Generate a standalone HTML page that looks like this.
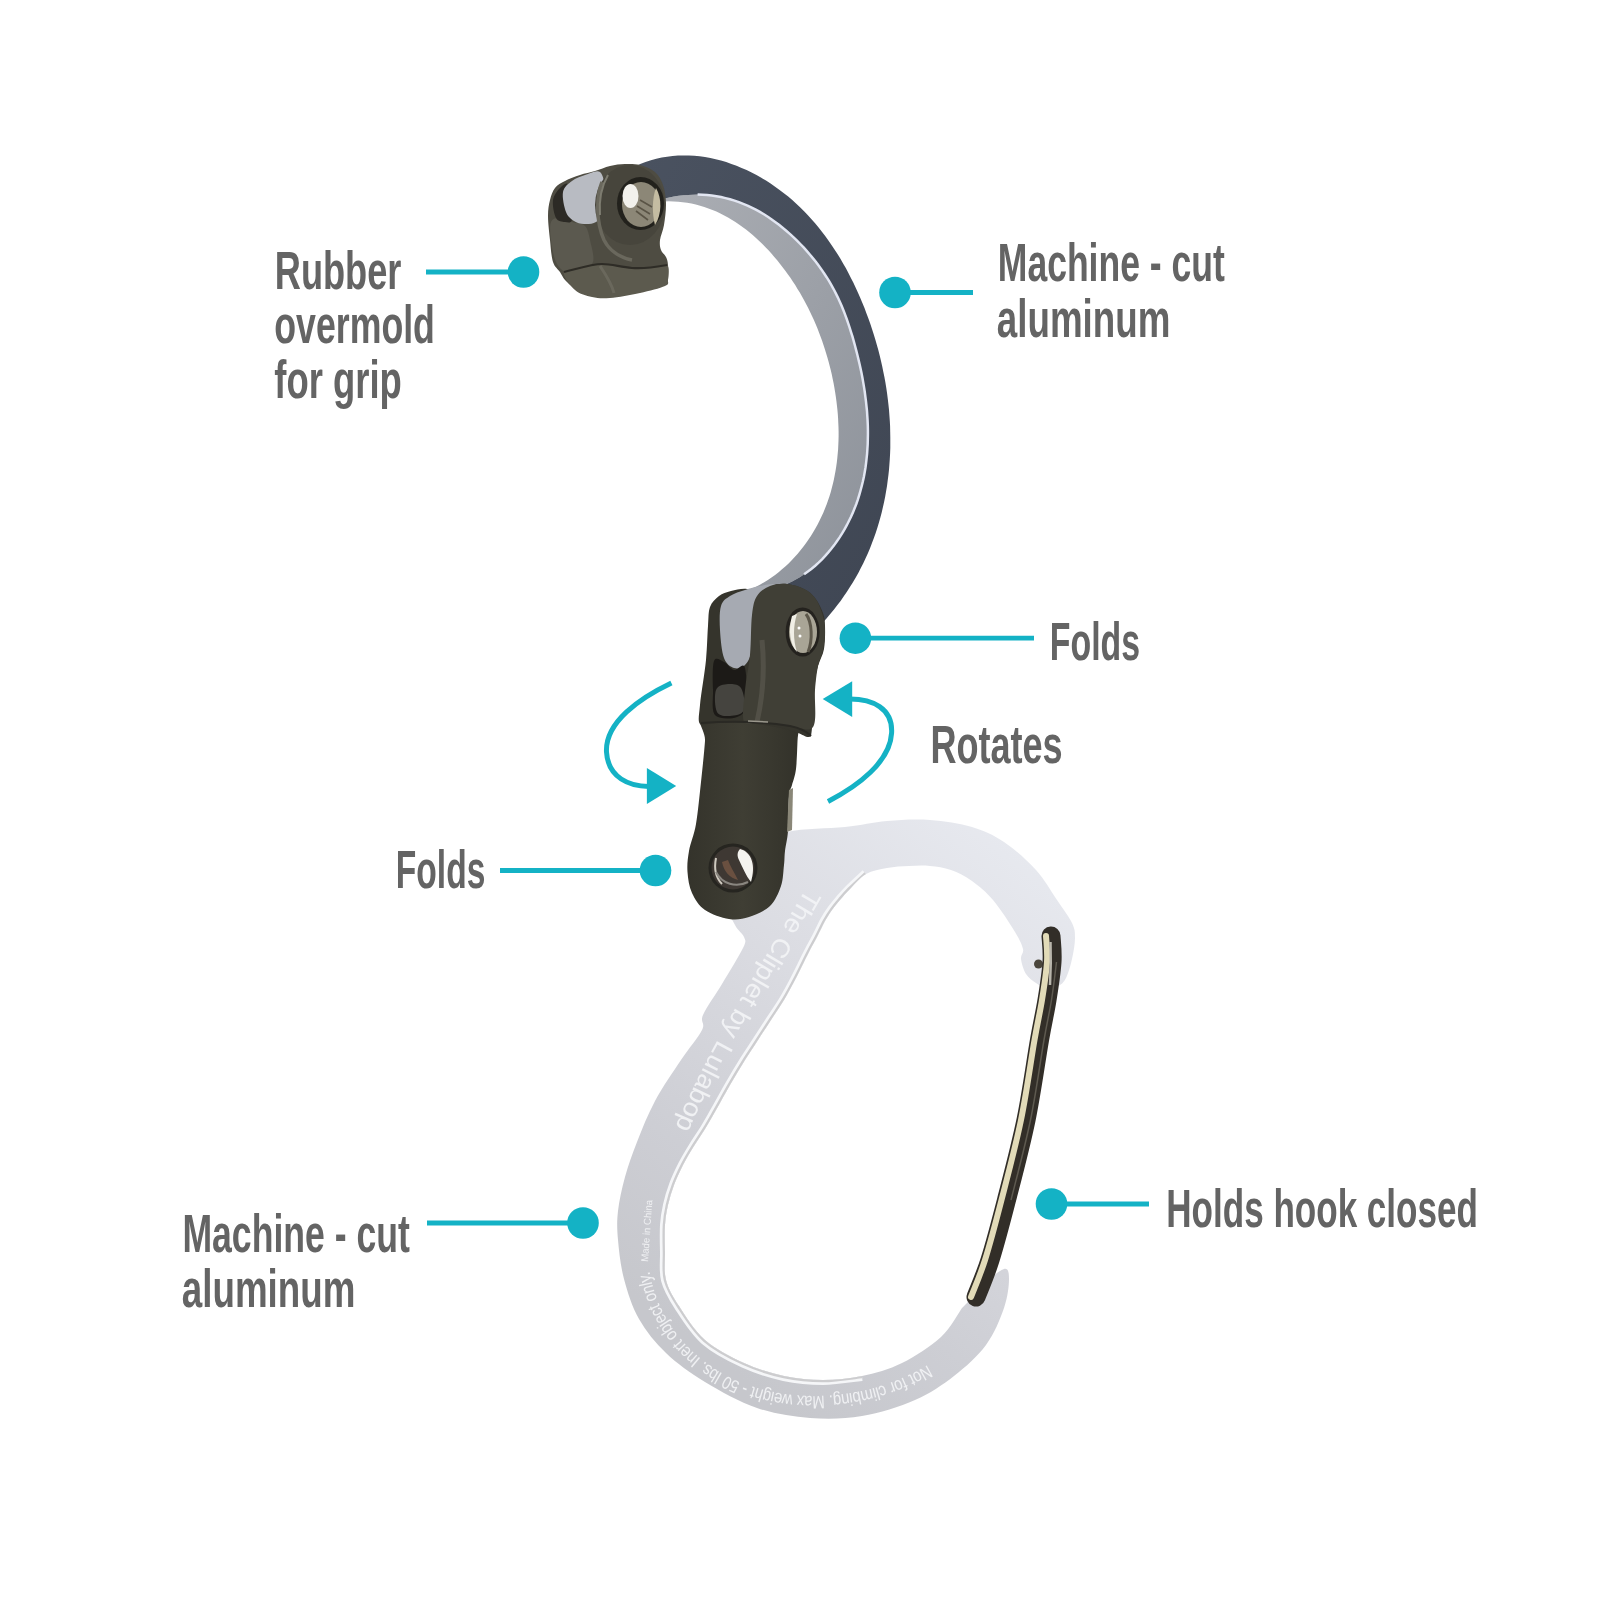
<!DOCTYPE html>
<html><head><meta charset="utf-8"><title>Hook</title>
<style>
html,body{margin:0;padding:0;background:#fff;}
body{width:1600px;height:1600px;overflow:hidden;}
svg{display:block;}
.eng{font-family:"Liberation Sans",sans-serif;font-weight:normal;fill:#f4f5f7;opacity:0.9;}
text.lbl{font-family:"Liberation Sans",sans-serif;font-weight:bold;font-size:54px;fill:#646464;}
svg{will-change:transform;}
</style></head><body>
<svg width="1600" height="1600" viewBox="0 0 1600 1600">
<defs>
<linearGradient id="gDark" x1="0" y1="0" x2="1" y2="1"><stop offset="0" stop-color="#4a5260"/><stop offset="1" stop-color="#3f4653"/></linearGradient>
<linearGradient id="gLight" x1="0" y1="0" x2="1" y2="1"><stop offset="0" stop-color="#abaeb4"/><stop offset="1" stop-color="#8d929a"/></linearGradient>
<linearGradient id="gRub2" x1="0" y1="0" x2="1" y2="0"><stop offset="0" stop-color="#34332b"/><stop offset="0.5" stop-color="#3f3e34"/><stop offset="1" stop-color="#33322a"/></linearGradient>
<linearGradient id="gSilver" gradientUnits="userSpaceOnUse" x1="1000" y1="830" x2="640" y2="1300"><stop offset="0" stop-color="#e7e9ef"/><stop offset="0.35" stop-color="#dcdde3"/><stop offset="0.75" stop-color="#cdced4"/><stop offset="1" stop-color="#c6c7cc"/></linearGradient>
</defs>
<rect width="1600" height="1600" fill="#fff"/>
<path d="M659.8 199.8 L664.5 198.5 L669.2 197.4 L673.9 196.5 L678.6 195.8 L683.4 195.2 L688.1 194.9 L692.9 194.7 L697.6 194.6 L702.3 194.8 L707.0 195.1 L711.7 195.6 L716.4 196.3 L721.0 197.1 L725.5 198.1 L730.0 199.3 L734.5 200.6 L738.9 202.1 L743.2 203.8 L747.5 205.6 L751.7 207.6 L755.8 209.7 L759.9 211.9 L763.9 214.3 L767.8 216.8 L771.7 219.4 L775.5 222.2 L779.3 225.0 L782.9 228.0 L786.5 231.0 L790.1 234.1 L793.6 237.3 L797.0 240.6 L800.3 244.0 L803.6 247.4 L806.7 250.9 L809.8 254.5 L812.8 258.1 L815.8 261.8 L818.6 265.6 L821.4 269.4 L824.0 273.3 L826.6 277.2 L829.1 281.2 L831.4 285.2 L833.7 289.3 L835.8 293.4 L837.9 297.6 L839.8 301.8 L841.7 306.0 L843.4 310.3 L845.1 314.6 L846.7 319.0 L848.2 323.4 L849.7 327.8 L851.1 332.3 L852.5 336.7 L853.8 341.3 L855.0 345.8 L856.2 350.4 L857.4 355.0 L858.5 359.6 L859.6 364.2 L860.6 368.8 L861.6 373.5 L862.5 378.2 L863.3 382.9 L864.1 387.6 L864.8 392.3 L865.4 397.0 L866.0 401.7 L866.5 406.5 L867.0 411.2 L867.3 415.9 L867.6 420.7 L867.8 425.4 L867.9 430.1 L867.9 434.8 L867.8 439.6 L867.7 444.3 L867.4 448.9 L867.1 453.6 L866.6 458.3 L866.1 462.9 L865.5 467.5 L864.7 472.2 L863.9 476.7 L862.9 481.3 L861.8 485.8 L860.6 490.3 L859.3 494.8 L857.9 499.3 L856.4 503.7 L854.7 508.1 L852.9 512.4 L851.0 516.7 L848.9 521.0 L846.8 525.2 L844.5 529.3 L842.1 533.4 L839.6 537.4 L836.9 541.3 L834.2 545.1 L831.3 548.8 L828.3 552.4 L825.2 555.9 L822.0 559.3 L818.6 562.6 L815.2 565.7 L811.6 568.8 L807.9 571.6 L804.1 574.3 L800.2 576.9 L796.2 579.3 L792.1 581.5 L787.8 583.6 L783.5 585.5 L779.0 587.1 L774.5 588.6 L769.8 589.9 L740.2 593.0 L744.4 591.6 L748.5 590.1 L752.5 588.3 L756.5 586.4 L760.3 584.4 L764.2 582.2 L767.9 579.9 L771.5 577.5 L775.1 574.9 L778.6 572.2 L782.0 569.3 L785.3 566.4 L788.6 563.4 L791.7 560.2 L794.7 557.0 L797.7 553.7 L800.5 550.3 L803.3 546.8 L805.9 543.2 L808.5 539.6 L810.9 535.9 L813.3 532.1 L815.5 528.3 L817.6 524.5 L819.6 520.6 L821.5 516.6 L823.3 512.7 L825.0 508.6 L826.6 504.6 L828.0 500.5 L829.4 496.4 L830.7 492.2 L831.8 488.1 L832.9 483.8 L833.9 479.6 L834.7 475.3 L835.5 471.1 L836.2 466.8 L836.8 462.4 L837.3 458.1 L837.7 453.7 L838.1 449.4 L838.3 445.0 L838.5 440.6 L838.6 436.2 L838.6 431.8 L838.5 427.4 L838.3 423.0 L838.1 418.5 L837.8 414.1 L837.4 409.7 L836.9 405.3 L836.4 400.9 L835.8 396.5 L835.1 392.1 L834.4 387.7 L833.6 383.3 L832.7 379.0 L831.8 374.6 L830.8 370.3 L829.7 366.0 L828.6 361.7 L827.4 357.4 L826.1 353.2 L824.8 348.9 L823.4 344.7 L822.0 340.5 L820.5 336.4 L818.9 332.2 L817.3 328.1 L815.6 324.1 L813.9 320.0 L812.0 316.0 L810.1 312.0 L808.2 308.1 L806.2 304.2 L804.1 300.3 L802.0 296.4 L799.8 292.6 L797.5 288.9 L795.2 285.1 L792.8 281.5 L790.4 277.8 L787.8 274.2 L785.3 270.7 L782.6 267.2 L779.9 263.7 L777.2 260.3 L774.3 256.9 L771.4 253.6 L768.5 250.3 L765.5 247.2 L762.4 244.0 L759.2 241.0 L756.0 238.0 L752.7 235.1 L749.4 232.3 L746.0 229.6 L742.5 226.9 L739.0 224.4 L735.4 222.0 L731.7 219.7 L728.0 217.5 L724.2 215.4 L720.4 213.5 L716.4 211.6 L712.5 209.9 L708.4 208.4 L704.3 207.0 L700.1 205.7 L695.8 204.6 L691.5 203.6 L687.1 202.8 L682.7 202.2 L678.2 201.7 L673.6 201.4 L668.9 201.3 L664.2 201.4 L659.4 201.6Z" fill="url(#gLight)"/>
<path d="M629.6 169.1 L634.9 166.4 L640.2 164.1 L645.5 162.1 L650.9 160.3 L656.3 158.8 L661.7 157.6 L667.1 156.7 L672.6 156.0 L678.0 155.6 L683.4 155.4 L688.9 155.5 L694.3 155.8 L699.7 156.3 L705.0 157.1 L710.4 158.0 L715.7 159.2 L721.0 160.6 L726.2 162.1 L731.4 163.9 L736.5 165.8 L741.6 167.9 L746.6 170.1 L751.6 172.5 L756.5 175.1 L761.3 177.8 L766.0 180.6 L770.6 183.6 L775.1 186.7 L779.6 189.9 L783.9 193.2 L788.2 196.6 L792.3 200.1 L796.3 203.8 L800.3 207.5 L804.1 211.3 L807.9 215.2 L811.5 219.2 L815.1 223.3 L818.6 227.4 L821.9 231.7 L825.2 236.0 L828.4 240.4 L831.5 244.9 L834.5 249.4 L837.5 254.0 L840.3 258.6 L843.1 263.4 L845.8 268.1 L848.4 273.0 L850.9 277.9 L853.4 282.8 L855.7 287.8 L858.0 292.8 L860.2 297.8 L862.4 302.9 L864.5 308.1 L866.4 313.2 L868.4 318.4 L870.2 323.6 L872.0 328.9 L873.7 334.2 L875.3 339.5 L876.8 344.8 L878.3 350.1 L879.7 355.5 L881.0 360.9 L882.2 366.2 L883.3 371.7 L884.4 377.1 L885.4 382.5 L886.3 388.0 L887.1 393.4 L887.8 398.9 L888.4 404.3 L889.0 409.8 L889.4 415.3 L889.8 420.8 L890.1 426.2 L890.2 431.7 L890.3 437.2 L890.3 442.6 L890.3 448.1 L890.1 453.5 L889.8 459.0 L889.4 464.4 L889.0 469.8 L888.4 475.2 L887.7 480.6 L887.0 485.9 L886.1 491.3 L885.2 496.6 L884.1 501.9 L882.9 507.2 L881.7 512.4 L880.3 517.7 L878.8 522.9 L877.3 528.0 L875.6 533.2 L873.8 538.3 L871.9 543.3 L869.9 548.4 L867.8 553.4 L865.6 558.3 L863.3 563.2 L860.8 568.1 L858.3 572.9 L855.6 577.7 L852.8 582.4 L849.9 587.1 L846.9 591.8 L843.8 596.3 L840.6 600.9 L837.2 605.3 L833.8 609.8 L830.2 614.1 L826.5 618.4 L822.6 622.7 L818.7 626.8 L814.6 631.0 L769.8 589.9 L774.5 588.6 L779.0 587.1 L783.5 585.5 L787.8 583.6 L792.1 581.5 L796.2 579.3 L800.2 576.9 L804.1 574.3 L807.9 571.6 L811.6 568.8 L815.2 565.7 L818.6 562.6 L822.0 559.3 L825.2 555.9 L828.3 552.4 L831.3 548.8 L834.2 545.1 L836.9 541.3 L839.6 537.4 L842.1 533.4 L844.5 529.3 L846.8 525.2 L848.9 521.0 L851.0 516.7 L852.9 512.4 L854.7 508.1 L856.4 503.7 L857.9 499.3 L859.3 494.8 L860.6 490.3 L861.8 485.8 L862.9 481.3 L863.9 476.7 L864.7 472.2 L865.5 467.5 L866.1 462.9 L866.6 458.3 L867.1 453.6 L867.4 448.9 L867.7 444.3 L867.8 439.6 L867.9 434.8 L867.9 430.1 L867.8 425.4 L867.6 420.7 L867.3 415.9 L867.0 411.2 L866.5 406.5 L866.0 401.7 L865.4 397.0 L864.8 392.3 L864.1 387.6 L863.3 382.9 L862.5 378.2 L861.6 373.5 L860.6 368.8 L859.6 364.2 L858.5 359.6 L857.4 355.0 L856.2 350.4 L855.0 345.8 L853.8 341.3 L852.5 336.7 L851.1 332.3 L849.7 327.8 L848.2 323.4 L846.7 319.0 L845.1 314.6 L843.4 310.3 L841.7 306.0 L839.8 301.8 L837.9 297.6 L835.8 293.4 L833.7 289.3 L831.4 285.2 L829.1 281.2 L826.6 277.2 L824.0 273.3 L821.4 269.4 L818.6 265.6 L815.8 261.8 L812.8 258.1 L809.8 254.5 L806.7 250.9 L803.6 247.4 L800.3 244.0 L797.0 240.6 L793.6 237.3 L790.1 234.1 L786.5 231.0 L782.9 228.0 L779.3 225.0 L775.5 222.2 L771.7 219.4 L767.8 216.8 L763.9 214.3 L759.9 211.9 L755.8 209.7 L751.7 207.6 L747.5 205.6 L743.2 203.8 L738.9 202.1 L734.5 200.6 L730.0 199.3 L725.5 198.1 L721.0 197.1 L716.4 196.3 L711.7 195.6 L707.0 195.1 L702.3 194.8 L697.6 194.6 L692.9 194.7 L688.1 194.9 L683.4 195.2 L678.6 195.8 L673.9 196.5 L669.2 197.4 L664.5 198.5 L659.8 199.8Z" fill="url(#gDark)"/>
<path d="M697.6 194.6 L702.3 194.8 L707.0 195.1 L711.7 195.6 L716.4 196.3 L721.0 197.1 L725.5 198.1 L730.0 199.3 L734.5 200.6 L738.9 202.1 L743.2 203.8 L747.5 205.6 L751.7 207.6 L755.8 209.7 L759.9 211.9 L763.9 214.3 L767.8 216.8 L771.7 219.4 L775.5 222.2 L779.3 225.0 L782.9 228.0 L786.5 231.0 L790.1 234.1 L793.6 237.3 L797.0 240.6 L800.3 244.0 L803.6 247.4 L806.7 250.9 L809.8 254.5 L812.8 258.1 L815.8 261.8 L818.6 265.6 L821.4 269.4 L824.0 273.3 L826.6 277.2 L829.1 281.2 L831.4 285.2 L833.7 289.3 L835.8 293.4 L837.9 297.6 L839.8 301.8 L841.7 306.0 L843.4 310.3 L845.1 314.6 L846.7 319.0 L848.2 323.4 L849.7 327.8 L851.1 332.3 L852.5 336.7 L853.8 341.3 L855.0 345.8 L856.2 350.4 L857.4 355.0 L858.5 359.6 L859.6 364.2 L860.6 368.8 L861.6 373.5 L862.5 378.2 L863.3 382.9 L864.1 387.6 L864.8 392.3 L865.4 397.0 L866.0 401.7 L866.5 406.5 L867.0 411.2 L867.3 415.9 L867.6 420.7 L867.8 425.4 L867.9 430.1 L867.9 434.8 L867.8 439.6 L867.7 444.3 L867.4 448.9 L867.1 453.6 L866.6 458.3 L866.1 462.9 L865.5 467.5 L864.7 472.2 L863.9 476.7 L862.9 481.3 L861.8 485.8 L860.6 490.3 L859.3 494.8 L857.9 499.3 L856.4 503.7 L854.7 508.1 L852.9 512.4 L851.0 516.7 L848.9 521.0 L846.8 525.2 L844.5 529.3 L842.1 533.4 L839.6 537.4 L836.9 541.3 L834.2 545.1 L831.3 548.8 L828.3 552.4 L825.2 555.9 L822.0 559.3 L818.6 562.6 L815.2 565.7 L811.6 568.8 L807.9 571.6 L804.1 574.3" fill="none" stroke="#e2e6f2" stroke-width="2.5"/>
<path d="M548.0 216.0 C548.0 209.3 548.8 204.7 550.0 200.0 C551.2 195.3 552.5 191.2 555.0 188.0 C557.5 184.8 560.8 183.2 565.0 181.0 C569.2 178.8 575.0 176.7 580.0 175.0 C585.0 173.3 590.0 172.5 595.0 171.0 C600.0 169.5 605.0 167.2 610.0 166.0 C615.0 164.8 620.0 164.2 625.0 164.0 C630.0 163.8 635.0 163.7 640.0 165.0 C645.0 166.3 651.2 168.7 655.0 172.0 C658.8 175.3 661.2 179.8 663.0 185.0 C664.8 190.2 665.8 196.3 666.0 203.0 C666.2 209.7 665.0 218.8 664.0 225.0 C663.0 231.2 660.5 235.8 660.0 240.0 C659.5 244.2 660.0 247.2 661.0 250.0 C662.0 252.8 664.8 254.5 666.0 257.0 C667.2 259.5 667.7 261.2 668.0 265.0 C668.3 268.8 668.5 276.7 668.0 280.0 C667.5 283.3 669.7 283.2 665.0 285.0 C660.3 286.8 649.2 289.3 640.0 291.0 C630.8 292.7 618.0 294.5 610.0 295.0 C602.0 295.5 597.8 295.2 592.0 294.0 C586.2 292.8 579.5 290.3 575.0 288.0 C570.5 285.7 567.5 282.7 565.0 280.0 C562.5 277.3 562.0 275.0 560.0 272.0 C558.0 269.0 554.7 267.3 553.0 262.0 C551.3 256.7 550.8 247.7 550.0 240.0 C549.2 232.3 548.0 222.7 548.0 216.0Z" fill="#4e4c42"/>
<path d="M551.0 222.0 C552.5 218.3 556.5 218.0 560.0 218.0 C563.5 218.0 567.8 220.7 572.0 222.0 C576.2 223.3 582.0 223.0 585.0 226.0 C588.0 229.0 588.7 234.0 590.0 240.0 C591.3 246.0 594.7 257.3 593.0 262.0 C591.3 266.7 584.5 266.3 580.0 268.0 C575.5 269.7 570.0 273.0 566.0 272.0 C562.0 271.0 558.5 267.3 556.0 262.0 C553.5 256.7 551.8 246.7 551.0 240.0 C550.2 233.3 549.5 225.7 551.0 222.0Z" fill="#5b594f"/>
<path d="M553.0 200.0 C553.7 195.0 557.5 190.7 560.0 188.0 C562.5 185.3 566.0 182.0 568.0 184.0 C570.0 186.0 571.3 194.0 572.0 200.0 C572.7 206.0 573.2 216.3 572.0 220.0 C570.8 223.7 567.7 222.3 565.0 222.0 C562.3 221.7 558.0 221.7 556.0 218.0 C554.0 214.3 552.3 205.0 553.0 200.0Z" fill="#2c2a25"/>
<path d="M563.0 192.0 C564.0 186.8 568.3 183.8 572.0 181.0 C575.7 178.2 580.3 176.5 585.0 175.0 C589.7 173.5 596.7 169.5 600.0 172.0 C603.3 174.5 604.5 183.3 605.0 190.0 C605.5 196.7 604.5 206.7 603.0 212.0 C601.5 217.3 599.2 220.0 596.0 222.0 C592.8 224.0 587.7 224.2 584.0 224.0 C580.3 223.8 577.0 223.0 574.0 221.0 C571.0 219.0 567.8 216.8 566.0 212.0 C564.2 207.2 562.0 197.2 563.0 192.0Z" fill="#b8bbc2"/>
<path d="M564.0 272.0 C565.7 268.0 579.0 267.3 585.0 266.0 C591.0 264.7 595.0 264.0 600.0 264.0 C605.0 264.0 609.7 265.3 615.0 266.0 C620.3 266.7 626.2 267.7 632.0 268.0 C637.8 268.3 644.2 268.5 650.0 268.0 C655.8 267.5 664.0 263.0 667.0 265.0 C670.0 267.0 668.3 276.5 668.0 280.0 C667.7 283.5 669.7 283.8 665.0 286.0 C660.3 288.2 649.2 291.0 640.0 293.0 C630.8 295.0 618.0 297.3 610.0 298.0 C602.0 298.7 597.8 298.3 592.0 297.0 C586.2 295.7 579.7 294.2 575.0 290.0 C570.3 285.8 562.3 276.0 564.0 272.0Z" fill="#5c5a4e"/>
<path d="M564 272 C580 268 592 264 602 264 C612 264 620 267 632 268 C646 269 656 267 667 265" stroke="#2e2c26" stroke-width="2.2" fill="none"/>
<path d="M600 266 C606 275 612 285 614 293" stroke="#6e6c60" stroke-width="3" fill="none" opacity="0.8"/>
<ellipse cx="630" cy="205" rx="35" ry="40" fill="#47453c"/>
<path d="M602 182 C596 197 596 222 604 240 C610 252 622 258 632 260" stroke="#6a685d" stroke-width="3.5" fill="none"/>
<path d="M608 175 C601 187 599 201 600 215" stroke="#8a887c" stroke-width="2" fill="none" opacity="0.8"/>
<ellipse cx="640.5" cy="203.5" rx="23.5" ry="26.5" fill="#22211c"/>
<ellipse cx="641" cy="204.5" rx="19" ry="22.5" fill="#8c8777"/>
<path d="M656 188 C662 198 662 214 655 225 C652 214 652 198 656 188 Z" fill="#c4bca2"/>
<ellipse cx="630.5" cy="196" rx="8" ry="12" fill="#f2f1ec"/>
<path d="M637 206 L650 214 M636 211 L648 220 M640 200 L652 207" stroke="#5a5446" stroke-width="1.6"/>
<path d="M745.0 850.0 C752.0 847.0 770.3 835.8 787.0 832.0 C803.7 828.2 828.3 828.8 845.0 827.0 C861.7 825.2 872.8 822.2 887.0 821.0 C901.2 819.8 915.8 819.0 930.0 820.0 C944.2 821.0 959.7 823.3 972.0 827.0 C984.3 830.7 993.3 834.8 1004.0 842.0 C1014.7 849.2 1027.2 860.3 1036.0 870.0 C1044.8 879.7 1051.0 891.2 1057.0 900.0 C1063.0 908.8 1069.0 916.7 1072.0 923.0 C1075.0 929.3 1075.0 932.0 1075.0 938.0 C1075.0 944.0 1073.5 952.3 1072.0 959.0 C1070.5 965.7 1068.3 973.5 1066.0 978.0 C1063.7 982.5 1061.5 984.5 1058.0 986.0 C1054.5 987.5 1048.7 987.5 1045.0 987.0 C1041.3 986.5 1039.2 985.2 1036.0 983.0 C1032.8 980.8 1028.5 978.0 1026.0 974.0 C1023.5 970.0 1021.5 963.2 1021.0 959.0 C1020.5 954.8 1024.0 953.5 1023.0 949.0 C1022.0 944.5 1020.0 940.2 1015.0 932.0 C1010.0 923.8 1000.2 908.5 993.0 900.0 C985.8 891.5 979.0 886.0 972.0 881.0 C965.0 876.0 958.0 872.5 951.0 870.0 C944.0 867.5 937.0 866.7 930.0 866.0 C923.0 865.3 916.2 865.7 909.0 866.0 C901.8 866.3 894.2 866.7 887.0 868.0 C879.8 869.3 872.2 870.5 866.0 874.0 C859.8 877.5 854.3 884.7 850.0 889.0 C845.7 893.3 843.0 896.5 840.0 900.0 C837.0 903.5 834.5 906.5 832.0 910.0 C829.5 913.5 827.5 916.5 825.0 921.0 C822.5 925.5 819.5 932.2 817.0 937.0 C814.5 941.8 812.2 945.8 810.0 950.0 C807.8 954.2 806.5 957.0 804.0 962.0 C801.5 967.0 798.3 973.7 795.0 980.0 C791.7 986.3 788.0 993.3 784.0 1000.0 C780.0 1006.7 775.3 1013.3 771.0 1020.0 C766.7 1026.7 762.3 1033.3 758.0 1040.0 C753.7 1046.7 749.7 1052.5 745.0 1060.0 C740.3 1067.5 734.8 1076.7 730.0 1085.0 C725.2 1093.3 720.2 1102.7 716.0 1110.0 C711.8 1117.3 708.7 1123.0 705.0 1129.0 C701.3 1135.0 697.7 1140.0 694.0 1146.0 C690.3 1152.0 686.3 1158.5 683.0 1165.0 C679.7 1171.5 676.5 1178.3 674.0 1185.0 C671.5 1191.7 669.5 1198.3 668.0 1205.0 C666.5 1211.7 665.5 1217.2 665.0 1225.0 C664.5 1232.8 664.8 1242.8 665.0 1252.0 C665.2 1261.2 663.7 1271.0 666.0 1280.0 C668.3 1289.0 672.5 1296.0 679.0 1306.0 C685.5 1316.0 694.2 1330.5 705.0 1340.0 C715.8 1349.5 730.8 1357.0 744.0 1363.0 C757.2 1369.0 770.8 1373.2 784.0 1376.0 C797.2 1378.8 810.0 1380.0 823.0 1380.0 C836.0 1380.0 848.8 1378.8 862.0 1376.0 C875.2 1373.2 888.8 1369.5 902.0 1363.0 C915.2 1356.5 931.0 1346.2 941.0 1337.0 C951.0 1327.8 958.5 1312.8 962.0 1308.0 L967.0 1303.0 C969.7 1300.0 976.8 1290.7 983.0 1285.0 C989.2 1279.3 999.7 1270.0 1004.0 1269.0 C1008.3 1268.0 1009.0 1272.5 1009.0 1279.0 C1009.0 1285.5 1007.8 1297.0 1004.0 1308.0 C1000.2 1319.0 994.3 1333.7 986.0 1345.0 C977.7 1356.3 965.8 1366.8 954.0 1376.0 C942.2 1385.2 930.3 1393.3 915.0 1400.0 C899.7 1406.7 879.5 1413.0 862.0 1416.0 C844.5 1419.0 827.5 1419.3 810.0 1418.0 C792.5 1416.7 774.5 1414.0 757.0 1408.0 C739.5 1402.0 720.2 1391.2 705.0 1382.0 C689.8 1372.8 677.0 1363.5 666.0 1353.0 C655.0 1342.5 646.0 1331.3 639.0 1319.0 C632.0 1306.7 627.5 1292.2 624.0 1279.0 C620.5 1265.8 619.0 1251.3 618.0 1240.0 C617.0 1228.7 616.8 1221.5 618.0 1211.0 C619.2 1200.5 621.8 1188.5 625.0 1177.0 C628.2 1165.5 632.0 1154.7 637.0 1142.0 C642.0 1129.3 647.7 1114.7 655.0 1101.0 C662.3 1087.3 673.2 1071.8 681.0 1060.0 C688.8 1048.2 698.3 1037.5 702.0 1030.0 C705.7 1022.5 699.7 1022.7 703.0 1015.0 C706.3 1007.3 715.3 995.2 722.0 984.0 C728.7 972.8 739.3 955.8 743.0 948.0 C746.7 940.2 745.3 940.8 744.0 937.0 C742.7 933.2 738.2 931.2 735.0 925.0 C731.8 918.8 726.2 909.2 725.0 900.0 C723.8 890.8 727.5 875.0 728.0 870.0Z" fill="url(#gSilver)"/>
<clipPath id="cpC"><path d="M745.0 850.0 C752.0 847.0 770.3 835.8 787.0 832.0 C803.7 828.2 828.3 828.8 845.0 827.0 C861.7 825.2 872.8 822.2 887.0 821.0 C901.2 819.8 915.8 819.0 930.0 820.0 C944.2 821.0 959.7 823.3 972.0 827.0 C984.3 830.7 993.3 834.8 1004.0 842.0 C1014.7 849.2 1027.2 860.3 1036.0 870.0 C1044.8 879.7 1051.0 891.2 1057.0 900.0 C1063.0 908.8 1069.0 916.7 1072.0 923.0 C1075.0 929.3 1075.0 932.0 1075.0 938.0 C1075.0 944.0 1073.5 952.3 1072.0 959.0 C1070.5 965.7 1068.3 973.5 1066.0 978.0 C1063.7 982.5 1061.5 984.5 1058.0 986.0 C1054.5 987.5 1048.7 987.5 1045.0 987.0 C1041.3 986.5 1039.2 985.2 1036.0 983.0 C1032.8 980.8 1028.5 978.0 1026.0 974.0 C1023.5 970.0 1021.5 963.2 1021.0 959.0 C1020.5 954.8 1024.0 953.5 1023.0 949.0 C1022.0 944.5 1020.0 940.2 1015.0 932.0 C1010.0 923.8 1000.2 908.5 993.0 900.0 C985.8 891.5 979.0 886.0 972.0 881.0 C965.0 876.0 958.0 872.5 951.0 870.0 C944.0 867.5 937.0 866.7 930.0 866.0 C923.0 865.3 916.2 865.7 909.0 866.0 C901.8 866.3 894.2 866.7 887.0 868.0 C879.8 869.3 872.2 870.5 866.0 874.0 C859.8 877.5 854.3 884.7 850.0 889.0 C845.7 893.3 843.0 896.5 840.0 900.0 C837.0 903.5 834.5 906.5 832.0 910.0 C829.5 913.5 827.5 916.5 825.0 921.0 C822.5 925.5 819.5 932.2 817.0 937.0 C814.5 941.8 812.2 945.8 810.0 950.0 C807.8 954.2 806.5 957.0 804.0 962.0 C801.5 967.0 798.3 973.7 795.0 980.0 C791.7 986.3 788.0 993.3 784.0 1000.0 C780.0 1006.7 775.3 1013.3 771.0 1020.0 C766.7 1026.7 762.3 1033.3 758.0 1040.0 C753.7 1046.7 749.7 1052.5 745.0 1060.0 C740.3 1067.5 734.8 1076.7 730.0 1085.0 C725.2 1093.3 720.2 1102.7 716.0 1110.0 C711.8 1117.3 708.7 1123.0 705.0 1129.0 C701.3 1135.0 697.7 1140.0 694.0 1146.0 C690.3 1152.0 686.3 1158.5 683.0 1165.0 C679.7 1171.5 676.5 1178.3 674.0 1185.0 C671.5 1191.7 669.5 1198.3 668.0 1205.0 C666.5 1211.7 665.5 1217.2 665.0 1225.0 C664.5 1232.8 664.8 1242.8 665.0 1252.0 C665.2 1261.2 663.7 1271.0 666.0 1280.0 C668.3 1289.0 672.5 1296.0 679.0 1306.0 C685.5 1316.0 694.2 1330.5 705.0 1340.0 C715.8 1349.5 730.8 1357.0 744.0 1363.0 C757.2 1369.0 770.8 1373.2 784.0 1376.0 C797.2 1378.8 810.0 1380.0 823.0 1380.0 C836.0 1380.0 848.8 1378.8 862.0 1376.0 C875.2 1373.2 888.8 1369.5 902.0 1363.0 C915.2 1356.5 931.0 1346.2 941.0 1337.0 C951.0 1327.8 958.5 1312.8 962.0 1308.0 L967.0 1303.0 C969.7 1300.0 976.8 1290.7 983.0 1285.0 C989.2 1279.3 999.7 1270.0 1004.0 1269.0 C1008.3 1268.0 1009.0 1272.5 1009.0 1279.0 C1009.0 1285.5 1007.8 1297.0 1004.0 1308.0 C1000.2 1319.0 994.3 1333.7 986.0 1345.0 C977.7 1356.3 965.8 1366.8 954.0 1376.0 C942.2 1385.2 930.3 1393.3 915.0 1400.0 C899.7 1406.7 879.5 1413.0 862.0 1416.0 C844.5 1419.0 827.5 1419.3 810.0 1418.0 C792.5 1416.7 774.5 1414.0 757.0 1408.0 C739.5 1402.0 720.2 1391.2 705.0 1382.0 C689.8 1372.8 677.0 1363.5 666.0 1353.0 C655.0 1342.5 646.0 1331.3 639.0 1319.0 C632.0 1306.7 627.5 1292.2 624.0 1279.0 C620.5 1265.8 619.0 1251.3 618.0 1240.0 C617.0 1228.7 616.8 1221.5 618.0 1211.0 C619.2 1200.5 621.8 1188.5 625.0 1177.0 C628.2 1165.5 632.0 1154.7 637.0 1142.0 C642.0 1129.3 647.7 1114.7 655.0 1101.0 C662.3 1087.3 673.2 1071.8 681.0 1060.0 C688.8 1048.2 698.3 1037.5 702.0 1030.0 C705.7 1022.5 699.7 1022.7 703.0 1015.0 C706.3 1007.3 715.3 995.2 722.0 984.0 C728.7 972.8 739.3 955.8 743.0 948.0 C746.7 940.2 745.3 940.8 744.0 937.0 C742.7 933.2 738.2 931.2 735.0 925.0 C731.8 918.8 726.2 909.2 725.0 900.0 C723.8 890.8 727.5 875.0 728.0 870.0Z"/></clipPath>
<g clip-path="url(#cpC)"><path d="M866.0 874.0 C863.3 876.5 854.3 884.7 850.0 889.0 C845.7 893.3 843.0 896.5 840.0 900.0 C837.0 903.5 834.5 906.5 832.0 910.0 C829.5 913.5 827.5 916.5 825.0 921.0 C822.5 925.5 819.5 932.2 817.0 937.0 C814.5 941.8 812.2 945.8 810.0 950.0 C807.8 954.2 806.5 957.0 804.0 962.0 C801.5 967.0 798.3 973.7 795.0 980.0 C791.7 986.3 788.0 993.3 784.0 1000.0 C780.0 1006.7 775.3 1013.3 771.0 1020.0 C766.7 1026.7 762.3 1033.3 758.0 1040.0 C753.7 1046.7 749.7 1052.5 745.0 1060.0 C740.3 1067.5 734.8 1076.7 730.0 1085.0 C725.2 1093.3 720.2 1102.7 716.0 1110.0 C711.8 1117.3 708.7 1123.0 705.0 1129.0 C701.3 1135.0 697.7 1140.0 694.0 1146.0 C690.3 1152.0 686.3 1158.5 683.0 1165.0 C679.7 1171.5 676.5 1178.3 674.0 1185.0 C671.5 1191.7 669.5 1198.3 668.0 1205.0 C666.5 1211.7 665.5 1217.2 665.0 1225.0 C664.5 1232.8 664.8 1242.8 665.0 1252.0 C665.2 1261.2 663.7 1271.0 666.0 1280.0 C668.3 1289.0 672.5 1296.0 679.0 1306.0 C685.5 1316.0 694.2 1330.5 705.0 1340.0 C715.8 1349.5 730.8 1357.0 744.0 1363.0 C757.2 1369.0 770.8 1373.2 784.0 1376.0 C797.2 1378.8 810.0 1380.0 823.0 1380.0 C836.0 1380.0 855.5 1376.7 862.0 1376.0" fill="none" stroke="#f5f6f8" stroke-width="10"/><path d="M866.0 874.0 C863.3 876.5 854.3 884.7 850.0 889.0 C845.7 893.3 843.0 896.5 840.0 900.0 C837.0 903.5 834.5 906.5 832.0 910.0 C829.5 913.5 827.5 916.5 825.0 921.0 C822.5 925.5 819.5 932.2 817.0 937.0 C814.5 941.8 812.2 945.8 810.0 950.0 C807.8 954.2 806.5 957.0 804.0 962.0 C801.5 967.0 798.3 973.7 795.0 980.0 C791.7 986.3 788.0 993.3 784.0 1000.0 C780.0 1006.7 775.3 1013.3 771.0 1020.0 C766.7 1026.7 762.3 1033.3 758.0 1040.0 C753.7 1046.7 749.7 1052.5 745.0 1060.0 C740.3 1067.5 734.8 1076.7 730.0 1085.0 C725.2 1093.3 720.2 1102.7 716.0 1110.0 C711.8 1117.3 708.7 1123.0 705.0 1129.0 C701.3 1135.0 697.7 1140.0 694.0 1146.0 C690.3 1152.0 686.3 1158.5 683.0 1165.0 C679.7 1171.5 676.5 1178.3 674.0 1185.0 C671.5 1191.7 669.5 1198.3 668.0 1205.0 C666.5 1211.7 665.5 1217.2 665.0 1225.0 C664.5 1232.8 664.8 1242.8 665.0 1252.0 C665.2 1261.2 663.7 1271.0 666.0 1280.0 C668.3 1289.0 672.5 1296.0 679.0 1306.0 C685.5 1316.0 694.2 1330.5 705.0 1340.0 C715.8 1349.5 730.8 1357.0 744.0 1363.0 C757.2 1369.0 770.8 1373.2 784.0 1376.0 C797.2 1378.8 810.0 1380.0 823.0 1380.0 C836.0 1380.0 855.5 1376.7 862.0 1376.0" fill="none" stroke="#cdcdcf" stroke-width="4.6"/></g>
<defs><path id="tpL" d="M817.5 887.7 L813.4 894.5 L809.4 901.3 L805.3 908.1 L801.2 914.9 L797.2 921.6 L793.1 928.4 L789.0 935.2 L784.9 942.0 L780.9 948.8 L776.8 955.7 L772.8 962.5 L768.7 969.3 L764.7 976.1 L760.7 983.0 L756.7 989.9 L752.7 996.7 L748.8 1003.6 L744.8 1010.5 L740.9 1017.4 L737.1 1024.3 L733.2 1031.3 L729.4 1038.2 L725.7 1045.2 L721.9 1052.2 L718.2 1059.2 L714.6 1066.3 L711.0 1073.3 L707.4 1080.4 L703.9 1087.5 L700.4 1094.6 L697.0 1101.8 L693.7 1108.9 L690.4 1116.1 L687.1 1123.4 L683.9 1130.6 L680.8 1137.9 L677.7 1145.2 L674.7 1152.5 L671.8 1159.9"/><path id="tpB" d="M939.4 1365.3 L933.6 1369.0 L927.7 1372.6 L921.6 1376.0 L915.4 1379.2 L909.0 1382.2 L902.5 1385.1 L895.8 1387.7 L889.1 1390.1 L882.3 1392.3 L875.3 1394.3 L868.3 1396.1 L861.3 1397.6 L854.2 1399.0 L847.0 1400.1 L839.8 1401.1 L832.6 1401.8 L825.3 1402.2 L818.1 1402.5 L810.9 1402.5 L803.6 1402.3 L796.4 1401.8 L789.3 1401.1 L782.2 1400.2 L775.1 1399.0 L768.1 1397.6 L761.2 1396.0 L754.4 1394.0 L747.7 1391.9 L741.1 1389.5 L734.6 1386.8 L728.2 1383.9 L722.0 1380.7 L715.9 1377.2 L710.0 1373.5 L704.3 1369.5 L698.7 1365.3 L693.4 1360.9 L688.2 1356.3 L683.2 1351.4 L678.5 1346.3 L674.0 1341.0 L669.8 1335.5 L665.8 1329.8 L662.0 1324.0 L658.6 1317.9 L655.4 1311.7 L652.6 1305.3 L650.0 1298.8 L647.7 1292.1 L645.8 1285.3 L644.3 1278.3 L643.0 1271.2 L642.2 1264.0 L641.7 1256.7 L641.5 1249.2 L641.8 1241.7 L642.5 1234.0 L643.6 1226.3 L645.1 1218.5"/></defs>
<text class="eng" font-size="26" dy="9.5" font-weight="bold"><textPath href="#tpL" startOffset="6" textLength="272" lengthAdjust="spacingAndGlyphs">The Cliplet by Lulabop</textPath></text>
<text class="eng" font-size="18" dy="6.5"><textPath href="#tpB" startOffset="10" textLength="357" lengthAdjust="spacingAndGlyphs">Not for climbing. Max weight - 50 lbs. Inert object only.</textPath></text>
<text class="eng" font-size="10" font-weight="bold" transform="translate(648,1262) rotate(-86)" textLength="62" lengthAdjust="spacingAndGlyphs">Made in China</text>
<circle cx="1038.5" cy="964" r="4.5" fill="#4a463c"/>
<path d="M1051.0 936.0 C1051.2 940.3 1052.7 951.3 1052.0 962.0 C1051.3 972.7 1049.1 987.0 1047.0 1000.0 C1044.9 1013.0 1043.0 1020.0 1039.5 1040.0 C1036.0 1060.0 1031.5 1093.3 1026.0 1120.0 C1020.5 1146.7 1012.5 1176.7 1006.5 1200.0 C1000.5 1223.3 995.1 1243.8 990.0 1260.0 C984.9 1276.2 978.3 1290.8 976.0 1297.0" fill="none" stroke="#322e28" stroke-width="19" stroke-linecap="round"/>
<path d="M1051.0 936.0 C1051.2 940.3 1052.7 951.3 1052.0 962.0 C1051.3 972.7 1049.1 987.0 1047.0 1000.0 C1044.9 1013.0 1043.0 1020.0 1039.5 1040.0 C1036.0 1060.0 1031.5 1093.3 1026.0 1120.0 C1020.5 1146.7 1012.5 1176.7 1006.5 1200.0 C1000.5 1223.3 995.1 1243.8 990.0 1260.0 C984.9 1276.2 978.3 1290.8 976.0 1297.0" fill="none" stroke="#e2dbb8" stroke-width="6" stroke-linecap="round" transform="translate(-5,0)"/>
<path d="M1050.5 942 C1051 955 1051 968 1050 985" fill="none" stroke="#b9b6ac" stroke-width="2.5"/>
<path d="M1052.0 962.0 C1051.2 968.3 1049.1 987.0 1047.0 1000.0 C1044.9 1013.0 1043.0 1020.0 1039.5 1040.0 C1036.0 1060.0 1031.5 1093.3 1026.0 1120.0 C1020.5 1146.7 1009.8 1186.7 1006.5 1200.0" fill="none" stroke="#5e5a50" stroke-width="1.5" transform="translate(4.5,0)"/>
<path d="M706.0 716.0 C719.2 712.8 768.8 720.3 784.0 722.0 C799.2 723.7 795.2 722.8 797.5 726.0 C799.8 729.2 797.8 733.8 797.5 741.0 C797.2 748.2 796.9 761.7 796.0 769.0 C795.1 776.3 793.2 780.5 792.0 785.0 C790.8 789.5 789.7 788.3 789.0 796.0 C788.3 803.7 788.7 821.8 788.0 831.0 C787.3 840.2 785.7 845.3 785.0 851.0 C784.3 856.7 784.7 859.2 784.0 865.0 C783.3 870.8 783.3 879.2 781.0 886.0 C778.7 892.8 775.3 900.8 770.0 906.0 C764.7 911.2 755.8 914.8 749.0 917.0 C742.2 919.2 736.3 920.2 729.0 919.0 C721.7 917.8 711.2 914.3 705.0 910.0 C698.8 905.7 694.9 899.3 692.0 893.0 C689.1 886.7 688.0 879.0 687.5 872.0 C687.0 865.0 687.6 859.0 689.0 851.0 C690.4 843.0 694.0 835.5 696.0 824.0 C698.0 812.5 699.5 795.8 701.0 782.0 C702.5 768.2 704.2 752.0 705.0 741.0 C705.8 730.0 692.8 719.2 706.0 716.0Z" fill="url(#gRub2)"/>
<path d="M789 790 L793 788 L792 830 L787 832 Z" fill="#8a8778"/>
<circle cx="733" cy="868" r="24.5" fill="#262520"/>
<circle cx="733" cy="868" r="21.5" fill="#3e3833"/>
<path d="M722 862 C724 872 730 878 738 880 C734 872 730 866 728 860 Z" fill="#6a5040"/>
<path d="M740 849 C752 852 756 866 751 882 C746 876 742 866 739 860 C737 856 737 852 740 849 Z" fill="#f4f3ef"/><path d="M716 858 C714 868 716 878 722 884" stroke="#cfcac0" stroke-width="2" fill="none"/>
<path d="M716 872 C722 884 736 888 748 882" stroke="#8a8680" stroke-width="2" fill="none"/>
<path d="M710.0 607.0 C711.8 602.0 715.5 598.7 719.0 596.0 C722.5 593.3 726.3 592.2 731.0 591.0 C735.7 589.8 742.3 588.3 747.0 589.0 C751.7 589.7 755.2 595.5 759.0 595.0 C762.8 594.5 765.3 587.8 770.0 586.0 C774.7 584.2 781.3 583.5 787.0 584.0 C792.7 584.5 799.3 586.7 804.0 589.0 C808.7 591.3 811.8 594.0 815.0 598.0 C818.2 602.0 821.3 608.3 823.0 613.0 C824.7 617.7 824.8 620.0 825.0 626.0 C825.2 632.0 825.2 642.3 824.0 649.0 C822.8 655.7 819.5 660.3 818.0 666.0 C816.5 671.7 816.0 672.7 815.0 683.0 C814.0 693.3 813.0 719.0 812.0 728.0 C811.0 737.0 811.3 736.2 809.0 737.0 C806.7 737.8 802.7 734.5 798.0 733.0 C793.3 731.5 789.5 729.7 781.0 728.0 C772.5 726.3 758.2 723.8 747.0 723.0 C735.8 722.2 721.8 722.8 714.0 723.0 C706.2 723.2 702.3 727.0 700.0 724.0 C697.7 721.0 699.0 715.7 700.0 705.0 C701.0 694.3 704.7 673.2 706.0 660.0 C707.3 646.8 707.3 634.8 708.0 626.0 C708.7 617.2 708.2 612.0 710.0 607.0Z" fill="#35342c"/>
<path d="M721.0 606.0 C722.7 600.3 726.0 598.7 730.0 596.0 C734.0 593.3 740.0 591.7 745.0 590.0 C750.0 588.3 754.8 586.8 760.0 586.0 C765.2 585.2 774.3 582.7 776.0 585.0 C777.7 587.3 773.5 595.8 770.0 600.0 C766.5 604.2 758.0 601.8 755.0 610.0 C752.0 618.2 753.7 639.8 752.0 649.0 C750.3 658.2 748.0 661.8 745.0 665.0 C742.0 668.2 737.5 669.2 734.0 668.0 C730.5 666.8 726.3 664.3 724.0 658.0 C721.7 651.7 720.5 638.7 720.0 630.0 C719.5 621.3 719.3 611.7 721.0 606.0Z" fill="#a6aab2"/>
<path d="M714.0 661.0 C715.8 656.3 720.7 660.5 724.0 662.0 C727.3 663.5 730.5 669.0 734.0 670.0 C737.5 671.0 743.3 661.0 745.0 668.0 C746.7 675.0 748.8 704.0 744.0 712.0 C739.2 720.0 721.2 719.7 716.0 716.0 C710.8 712.3 713.3 699.2 713.0 690.0 C712.7 680.8 712.2 665.7 714.0 661.0Z" fill="#1c1a17"/>
<path d="M716.0 690.0 C717.8 685.3 723.8 684.3 728.0 684.0 C732.2 683.7 738.3 683.7 741.0 688.0 C743.7 692.3 745.8 705.3 744.0 710.0 C742.2 714.7 734.5 715.7 730.0 716.0 C725.5 716.3 719.3 716.3 717.0 712.0 C714.7 707.7 714.2 694.7 716.0 690.0Z" fill="#45443f"/>
<path d="M757.0 596.0 C760.0 591.2 765.0 588.0 770.0 586.0 C775.0 584.0 781.3 583.5 787.0 584.0 C792.7 584.5 799.3 586.7 804.0 589.0 C808.7 591.3 812.0 594.0 815.0 598.0 C818.0 602.0 820.3 607.7 822.0 613.0 C823.7 618.3 824.8 623.8 825.0 630.0 C825.2 636.2 824.2 644.0 823.0 650.0 C821.8 656.0 819.3 659.3 818.0 666.0 C816.7 672.7 815.8 679.8 815.0 690.0 C814.2 700.2 817.2 721.0 813.0 727.0 C808.8 733.0 798.8 726.8 790.0 726.0 C781.2 725.2 767.7 722.7 760.0 722.0 C752.3 721.3 746.5 727.3 744.0 722.0 C741.5 716.7 744.0 701.2 745.0 690.0 C746.0 678.8 748.8 667.5 750.0 655.0 C751.2 642.5 750.8 624.8 752.0 615.0 C753.2 605.2 754.0 600.8 757.0 596.0Z" fill="#403f36"/>
<path d="M762 640 C765 670 762 700 757 722" stroke="#5a584e" stroke-width="5" fill="none" opacity="0.7"/>
<path d="M701 723 C730 721 760 721 790 726 C800 728 806 731 811 736" stroke="#2a2924" stroke-width="2" fill="none"/>
<path d="M748 721 L768 722" stroke="#9a978c" stroke-width="1.5" fill="none"/>
<ellipse cx="802.6" cy="632" rx="17" ry="24.5" fill="#24221e"/>
<ellipse cx="803" cy="632" rx="14" ry="21" fill="#a9a596"/>
<path d="M792 616 C788 630 790 645 797 652 C793 640 793 626 797 614 Z" fill="#f1efe6"/>
<path d="M806 614 C812 622 813 640 808 652" stroke="#5c574a" stroke-width="3" fill="none"/>
<circle cx="799" cy="628" r="1.5" fill="#fff"/><circle cx="800" cy="636" r="1.5" fill="#fff"/>
<path d="M671.4 683 C640 698 605 722 606.5 752 C608 778 630 786.5 649 786.4" fill="none" stroke="#14b2c5" stroke-width="5"/>
<path d="M646.9 768 L676.2 786 L646.9 803.9 Z" fill="#14b2c5"/>
<path d="M828 801.5 C858 786 890 762 891.6 733 C893 708 872 699 850 699" fill="none" stroke="#14b2c5" stroke-width="5"/>
<path d="M852.2 681.3 L822.7 699 L852.2 717.1 Z" fill="#14b2c5"/>
<line x1="426.0" y1="272.0" x2="523.0" y2="272.0" stroke="#14b2c5" stroke-width="4.8"/>
<circle cx="523.5" cy="272.0" r="15.8" fill="#14b2c5"/>
<line x1="895.0" y1="292.5" x2="973.0" y2="292.5" stroke="#14b2c5" stroke-width="4.8"/>
<circle cx="895.0" cy="292.5" r="15.8" fill="#14b2c5"/>
<line x1="855.4" y1="638.2" x2="1034.0" y2="638.2" stroke="#14b2c5" stroke-width="4.8"/>
<circle cx="855.4" cy="638.2" r="15.8" fill="#14b2c5"/>
<line x1="500.0" y1="870.5" x2="655.0" y2="870.5" stroke="#14b2c5" stroke-width="4.8"/>
<circle cx="655.5" cy="870.5" r="15.8" fill="#14b2c5"/>
<line x1="427.0" y1="1223.0" x2="583.0" y2="1223.0" stroke="#14b2c5" stroke-width="4.8"/>
<circle cx="583.0" cy="1223.0" r="15.8" fill="#14b2c5"/>
<line x1="1051.0" y1="1204.0" x2="1149.0" y2="1204.0" stroke="#14b2c5" stroke-width="4.8"/>
<circle cx="1051.5" cy="1204.0" r="15.8" fill="#14b2c5"/>
<text class="lbl" x="274.8" y="288.5" textLength="126.6" lengthAdjust="spacingAndGlyphs">Rubber</text>
<text class="lbl" x="274.3" y="343.0" textLength="160.6" lengthAdjust="spacingAndGlyphs">overmold</text>
<text class="lbl" x="274.3" y="398.0" textLength="127.6" lengthAdjust="spacingAndGlyphs">for grip</text>
<text class="lbl" x="997.8" y="281.1" textLength="227.0" lengthAdjust="spacingAndGlyphs">Machine - cut</text>
<text class="lbl" x="996.8" y="336.5" textLength="173.6" lengthAdjust="spacingAndGlyphs">aluminum</text>
<text class="lbl" x="1049.8" y="659.5" textLength="90.3" lengthAdjust="spacingAndGlyphs">Folds</text>
<text class="lbl" x="930.4" y="762.5" textLength="132.2" lengthAdjust="spacingAndGlyphs">Rotates</text>
<text class="lbl" x="395.8" y="887.5" textLength="89.6" lengthAdjust="spacingAndGlyphs">Folds</text>
<text class="lbl" x="182.4" y="1252.2" textLength="227.5" lengthAdjust="spacingAndGlyphs">Machine - cut</text>
<text class="lbl" x="181.8" y="1306.5" textLength="173.6" lengthAdjust="spacingAndGlyphs">aluminum</text>
<text class="lbl" x="1166.3" y="1227.1" textLength="311.6" lengthAdjust="spacingAndGlyphs">Holds hook closed</text>
</svg>
</body></html>
